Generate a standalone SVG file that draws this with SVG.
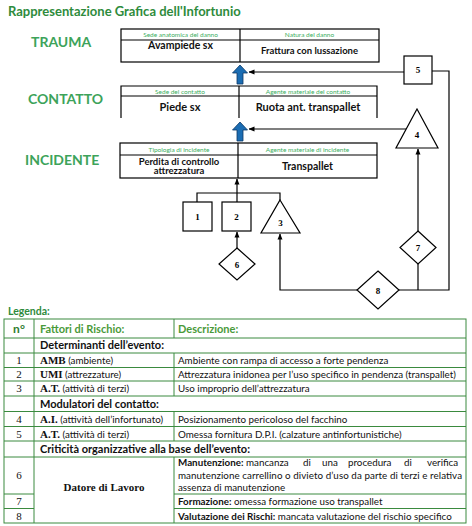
<svg xmlns="http://www.w3.org/2000/svg" width="472" height="526" viewBox="0 0 472 526">
<style>
.title{font-family:Lato,"Liberation Sans",sans-serif;font-weight:bold;font-size:13px;fill:#2e8b3c}
.lvl{font-family:Lato,"Liberation Sans",sans-serif;font-weight:bold;font-size:14px;fill:#3da35a}
.box{fill:#fff;stroke:#000;stroke-width:1.2}
.ln{stroke:#000;stroke-width:1.2;fill:none}
.hdr{font-family:Lato,"Liberation Sans",sans-serif;font-size:6.5px;fill:#3cae62;text-anchor:middle}
.val{font-family:Lato,"Liberation Sans",sans-serif;font-weight:bold;font-size:10.5px;fill:#111;text-anchor:middle}
.num{font-family:"Liberation Serif",serif;font-weight:bold;font-size:9px;fill:#000;text-anchor:middle}
.shape{fill:#fff;stroke:#000;stroke-width:1.2}
.blue{fill:#1b6db3;stroke:#0c3966;stroke-width:0.8}
.tb{stroke:#3a8a3e;stroke-width:1;fill:none}
.th{font-family:Lato,"Liberation Sans",sans-serif;font-weight:bold;font-size:11px;fill:#4a9a3a}
.ts{font-family:Lato,"Liberation Sans",sans-serif;font-weight:bold;font-size:11px;fill:#111}
.td{font-family:Lato,"Liberation Sans",sans-serif;font-size:9.8px;fill:#111}
.tn{font-family:"Liberation Serif",serif;font-size:11px;fill:#111;text-anchor:middle}
.sb{font-family:"Liberation Serif",serif;font-weight:bold}
.b{font-weight:bold}
</style>
<defs>
<marker id="ah" markerWidth="6" markerHeight="6" refX="5.5" refY="3" orient="auto" markerUnits="userSpaceOnUse"><path d="M0,0.5 L6,3 L0,5.5 z" fill="#000"/></marker>
</defs>
<rect width="472" height="526" fill="#fff"/>
<text class="title" x="8" y="16">Rappresentazione Grafica dell'Infortunio</text>
<text class="lvl" x="31" y="47">TRAUMA</text>
<text class="lvl" x="28" y="104">CONTATTO</text>
<text class="lvl" x="25" y="165">INCIDENTE</text>

<g id="trauma">
<rect class="box" x="121" y="29" width="258" height="33"/>
<line class="ln" x1="121" y1="40" x2="379" y2="40"/>
<line class="ln" x1="240" y1="29" x2="240" y2="62"/>
<text class="hdr" x="180.5" y="37">Sede anatomica del danno</text>
<text class="hdr" x="309.5" y="37">Natura del danno</text>
<text class="val" x="180.5" y="48.5">Avampiede sx</text>
<text class="val" x="309.5" y="54" style="font-size:9.5px">Frattura con lussazione</text>
</g>

<g id="contatto">
<path class="ln" d="M121,118 V86 H377 V118"/>
<line class="ln" x1="121" y1="96" x2="377" y2="96"/>
<line class="ln" x1="239" y1="86" x2="239" y2="118"/>
<text class="hdr" x="180" y="93.5">Sede del contatto</text>
<text class="hdr" x="308" y="93.5">Agente materiale del contatto</text>
<text class="val" x="180" y="110.5" style="font-size:11px">Piede sx</text>
<text class="val" x="308" y="110.5" style="font-size:11px">Ruota ant. transpallet</text>
</g>

<g id="incidente">
<rect class="box" x="120" y="143" width="257" height="35"/>
<line class="ln" x1="120" y1="155" x2="377" y2="155"/>
<line class="ln" x1="238" y1="143" x2="238" y2="178"/>
<text class="hdr" x="179" y="152">Tipologia di incidente</text>
<text class="hdr" x="307.5" y="152">Agente materiale di incidente</text>
<text class="val" x="179" y="164.5" style="font-size:9.5px">Perdita di controllo</text>
<text class="val" x="179" y="174" style="font-size:9.5px">attrezzatura</text>
<text class="val" x="307.5" y="170" style="font-size:10.5px">Transpallet</text>
</g>

<g id="arrow-trauma"><path class="blue" d="M240,65 L247.5,73 L243,73 L243,84 L237,84 L237,73 L232.5,73 Z"/></g>
<g id="arrow-contatto"><path class="blue" d="M240,122 L247.5,130 L243,130 L243,141 L237,141 L237,130 L232.5,130 Z"/></g>

<g id="connectors">
<line class="ln" x1="404" y1="72" x2="249" y2="72" marker-end="url(#ah)"/>
<line class="ln" x1="406" y1="129" x2="249" y2="129" marker-end="url(#ah)"/>
<line class="ln" x1="418" y1="231" x2="418" y2="149" marker-end="url(#ah)"/>
<path class="ln" d="M399,290 H449 V71 H432"/>
<line class="ln" x1="418" y1="264" x2="418" y2="290"/>
<path class="ln" d="M357,290 H280 V234" marker-end="url(#ah)"/>
<line class="ln" x1="237" y1="248" x2="237" y2="232" marker-end="url(#ah)"/>
<path class="ln" d="M197,202 V193 H280 V200"/>
<line class="ln" x1="237" y1="202" x2="237" y2="179" marker-end="url(#ah)"/>
</g>

<g id="n1"><rect class="shape" x="183" y="202" width="29" height="29"/><text class="num" x="197.5" y="219.5">1</text></g>
<g id="n2"><rect class="shape" x="222" y="202" width="29" height="29"/><text class="num" x="236.5" y="219.5">2</text></g>
<g id="n3"><path class="shape" d="M280,200 L300,233 L261,233 Z"/><text class="num" x="280.5" y="226">3</text></g>
<g id="n4"><path class="shape" d="M417,109 L438,148 L396,148 Z"/><text class="num" x="417" y="138">4</text></g>
<g id="n5"><rect class="shape" x="404" y="56" width="28" height="28"/><text class="num" x="418" y="73">5</text></g>
<g id="n6"><path class="shape" d="M237,248 L255,264 L237,280 L219,264 Z"/><text class="num" x="237" y="267.5">6</text></g>
<g id="n7"><path class="shape" d="M418,231 L436,247.5 L418,264 L400,247.5 Z"/><text class="num" x="418" y="251">7</text></g>
<g id="n8"><path class="shape" d="M378,271 L399,290 L378,309 L357,290 Z"/><text class="num" x="378" y="293.5">8</text></g>

<text class="title" x="8" y="315" style="font-size:10.5px">Legenda:</text>

<g id="legend">
<rect class="tb" x="4" y="319" width="462" height="204"/>
<line class="tb" x1="4" y1="338" x2="466" y2="338"/>
<line class="tb" x1="4" y1="353" x2="466" y2="353"/>
<line class="tb" x1="4" y1="367.5" x2="466" y2="367.5"/>
<line class="tb" x1="4" y1="381" x2="466" y2="381"/>
<line class="tb" x1="4" y1="396" x2="466" y2="396"/>
<line class="tb" x1="4" y1="411.5" x2="466" y2="411.5"/>
<line class="tb" x1="4" y1="426.5" x2="466" y2="426.5"/>
<line class="tb" x1="4" y1="441" x2="466" y2="441"/>
<line class="tb" x1="4" y1="457" x2="466" y2="457"/>
<line class="tb" x1="4" y1="494" x2="34" y2="494"/>
<line class="tb" x1="174" y1="494" x2="466" y2="494"/>
<line class="tb" x1="4" y1="508.5" x2="34" y2="508.5"/>
<line class="tb" x1="174" y1="508.5" x2="466" y2="508.5"/>
<line class="tb" x1="34" y1="319" x2="34" y2="523"/>
<line class="tb" x1="174" y1="319" x2="174" y2="338"/>
<line class="tb" x1="174" y1="353" x2="174" y2="396"/>
<line class="tb" x1="174" y1="411.5" x2="174" y2="441"/>
<line class="tb" x1="174" y1="457" x2="174" y2="523"/>

<text class="th" x="19" y="333" text-anchor="middle" style="font-size:12px;fill:#2f7d2f">n°</text>
<text class="th" x="40" y="333">Fattori di Rischio:</text>
<text class="th" x="178" y="333">Descrizione:</text>

<text class="ts" x="40" y="349">Determinanti dell’evento:</text>
<text class="tn" x="19" y="364">1</text>
<text class="td" x="40" y="364"><tspan class="sb" style="font-size:11px">AMB</tspan>   (ambiente)</text>
<text class="td" x="178" y="364">Ambiente con rampa di accesso a forte pendenza</text>
<text class="tn" x="19" y="378">2</text>
<text class="td" x="40" y="378"><tspan class="sb" style="font-size:11px">UMI</tspan> (attrezzature)</text>
<text class="td" x="178" y="378">Attrezzatura inidonea per l’uso specifico in pendenza (transpallet)</text>
<text class="tn" x="19" y="392">3</text>
<text class="td" x="40" y="392"><tspan class="sb" style="font-size:11px">A.T.</tspan> (attività di terzi)</text>
<text class="td" x="178" y="392">Uso improprio dell’attrezzatura</text>

<text class="ts" x="40" y="407.5">Modulatori del contatto:</text>
<text class="tn" x="19" y="423">4</text>
<text class="td" x="40" y="423"><tspan class="sb" style="font-size:11px">A.I.</tspan> (attività dell’infortunato)</text>
<text class="td" x="178" y="423">Posizionamento pericoloso del facchino</text>
<text class="tn" x="19" y="437.5">5</text>
<text class="td" x="40" y="437.5"><tspan class="sb" style="font-size:11px">A.T.</tspan> (attività di terzi)</text>
<text class="td" x="178" y="437.5">Omessa fornitura D.P.I. (calzature antinfortunistiche)</text>

<text class="ts" x="40" y="453">Criticità organizzative alla base dell’evento:</text>
<text class="tn" x="19" y="479">6</text>
<text class="tn" x="104" y="491" style="font-weight:bold">Datore di Lavoro</text>
<text class="td" y="466"><tspan class="b" x="178">Manutenzione:</tspan><tspan x="246">mancanza</tspan><tspan x="303">di</tspan><tspan x="322">una</tspan><tspan x="348">procedura</tspan><tspan x="404">di</tspan><tspan x="427">verifica</tspan></text>
<text class="td" x="178" y="479" textLength="284" lengthAdjust="spacing">manutenzione carrellino o divieto d’uso da parte di terzi e relativa</text>
<text class="td" x="178" y="491">assenza di manutenzione</text>
<text class="tn" x="19" y="505">7</text>
<text class="td" x="178" y="505"><tspan class="b">Formazione:</tspan> omessa formazione uso transpallet</text>
<text class="tn" x="19" y="519.5">8</text>
<text class="td" x="178" y="519.5"><tspan class="b">Valutazione dei Rischi:</tspan> mancata valutazione del rischio specifico</text>
</g>
</svg>
